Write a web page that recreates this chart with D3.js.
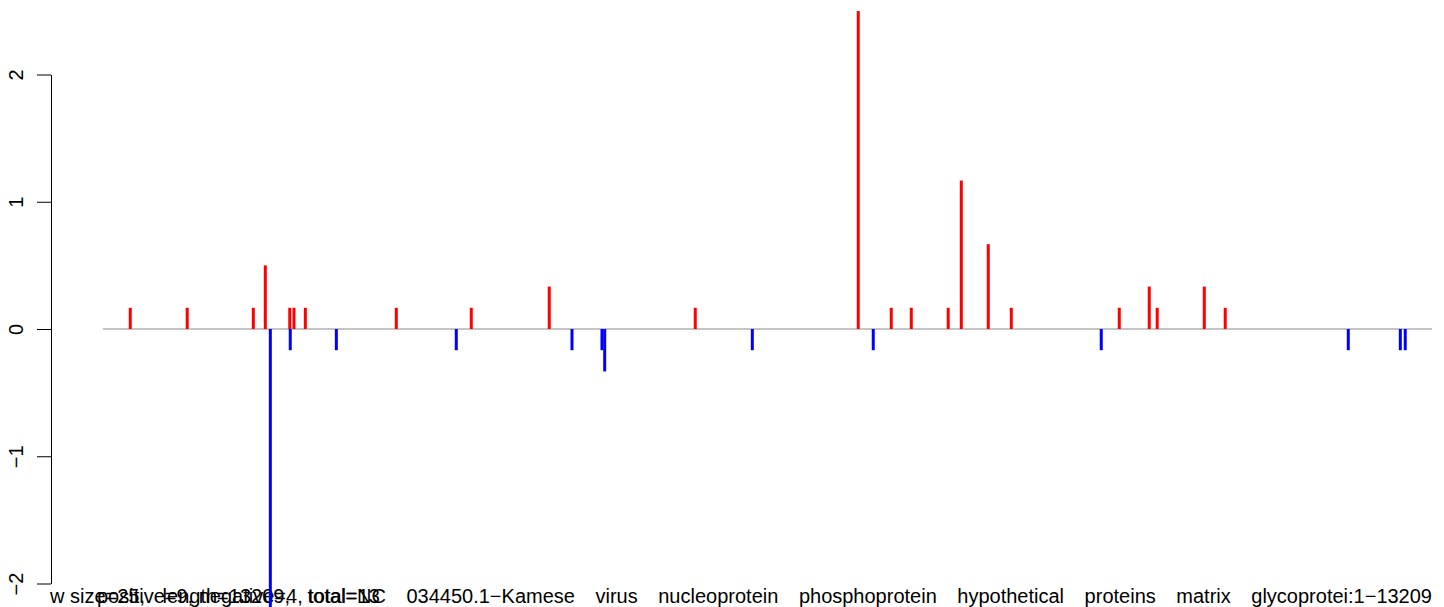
<!DOCTYPE html>
<html>
<head>
<meta charset="utf-8">
<script src="https://cdn.jsdelivr.net/npm/d3@7"></script>
<style>
  html, body { margin: 0; padding: 0; background: #fff; }
  svg { display: block; }
  text { font-family: "Liberation Sans", Arial, Helvetica, sans-serif; }
</style>
</head>
<body>
<svg id="chart" width="1444" height="607"></svg>
<script>
// Genome span (nt)
const genomeStart = 1;
const genomeEnd = 13209;

// Windows with a positive score (position in nt, score)
const posPositions = [272, 838, 1495, 1614, 1857, 1899, 2012, 2916, 3661, 4436, 5887,
  7507, 7835, 8034, 8401, 8531, 8799, 9028, 10101, 10399, 10478, 10946, 11154];
const posValues = [0.1667, 0.1667, 0.1667, 0.5, 0.1667, 0.1667, 0.1667, 0.1667, 0.1667, 0.3333, 0.1667,
  2.5, 0.1667, 0.1667, 0.1667, 1.1667, 0.6667, 0.1667, 0.1667, 0.3333, 0.1667, 0.3333, 0.1667];

// Windows with a negative score
const negPositions = [1664, 1862, 2320, 3512, 4662, 4960, 4987, 6454, 7656, 9922, 12377, 12894, 12943];
const negValues = [-2.5, -0.1667, -0.1667, -0.1667, -0.1667, -0.1667, -0.3333, -0.1667, -0.1667, -0.1667,
  -0.1667, -0.1667, -0.1667];

// Y axis ticks
const yTicks = [-2, -1, 0, 1, 2];
const yTickLabels = ["\u22122", "\u22121", "0", "1", "2"];

// Caption lines
const captionParts = ["w size=25,", " length=13209, total=",
  "NC 034450.1\u2212Kamese virus nucleoprotein phosphoprotein hypothetical proteins matrix glycoprotei:1\u221213209"];
const captionCounts = "positive=9, negative=4, total=13";

const svg = d3.select("#chart");

const x = d3.scaleLinear().domain([genomeStart, genomeEnd]).range([103, 1432]);
const y = d3.scaleLinear().domain([-2, 2]).range([583.5, 74.5]);

// Captions along the bottom
const cap = svg.append("text")
  .attr("x", 50).attr("y", 603)
  .attr("font-size", 20)
  .attr("fill", "#000");
const p0 = cap.append("tspan").text(captionParts[0]);
const p1 = cap.append("tspan").style("word-spacing", "12px").text(captionParts[1]);
const p2 = cap.append("tspan").text(captionParts[2]);
const usedLen = p0.node().getComputedTextLength() + p1.node().getComputedTextLength();
const tailLen = p2.node().getComputedTextLength();
const tailSpaces = (captionParts[2].match(/ /g) || []).length;
p2.style("word-spacing", ((1382 - usedLen - tailLen) / tailSpaces) + "px");

svg.append("text")
  .attr("x", 97).attr("y", 603)
  .attr("font-size", 20)
  .attr("fill", "#000")
  .text(captionCounts);

// Y axis
const yAxis = d3.axisLeft(y)
  .tickValues(yTicks)
  .tickFormat((d, i) => yTickLabels[i])
  .tickSize(14)
  .tickSizeOuter(0);

const gy = svg.append("g")
  .attr("transform", "translate(51,0)")
  .call(yAxis);
gy.select(".domain").attr("stroke", "#000").attr("stroke-width", 1);
gy.selectAll(".tick line").attr("stroke", "#000").attr("stroke-width", 1);
gy.selectAll(".tick text")
  .attr("x", null).attr("dy", null)
  .attr("text-anchor", "middle")
  .attr("transform", "translate(-28,0) rotate(-90)")
  .attr("font-size", 20)
  .attr("font-family", "Liberation Sans, Arial, sans-serif")
  .attr("fill", "#000");

// Baseline at zero
svg.append("line")
  .attr("x1", x(genomeStart)).attr("x2", x(genomeEnd))
  .attr("y1", y(0)).attr("y2", y(0))
  .attr("stroke", "#8c8c8c").attr("stroke-width", 1.2);

// Positive windows (red spikes)
svg.append("g").selectAll("line")
  .data(posPositions.map((p, i) => ({ p, v: posValues[i] })))
  .join("line")
  .attr("x1", d => x(d.p)).attr("x2", d => x(d.p))
  .attr("y1", y(0)).attr("y2", d => y(d.v))
  .attr("stroke", "#ff0000").attr("stroke-width", 3);

// Negative windows (blue spikes)
svg.append("g").selectAll("line")
  .data(negPositions.map((p, i) => ({ p, v: negValues[i] })))
  .join("line")
  .attr("x1", d => x(d.p)).attr("x2", d => x(d.p))
  .attr("y1", y(0)).attr("y2", d => y(d.v))
  .attr("stroke", "#0000ff").attr("stroke-width", 3);
</script>
</body>
</html>
